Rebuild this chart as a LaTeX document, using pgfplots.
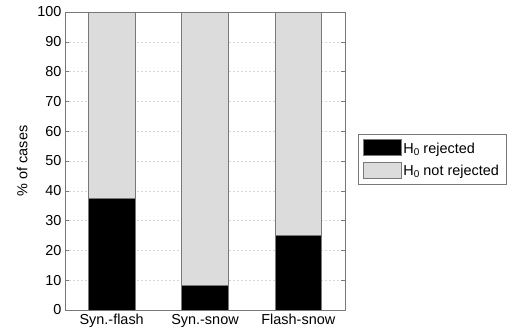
\documentclass[border=0pt]{standalone}
\usepackage{fontspec}
\setmainfont{Liberation Sans}
\usepackage{pgfplots}
\pgfplotsset{compat=1.18}
\definecolor{barGray}{RGB}{220,220,220}
\definecolor{edgeGray}{RGB}{120,120,120}
\definecolor{gridGray}{RGB}{215,215,215}
\newcommand{\lsub}[1]{\raisebox{-0.35ex}{\fontsize{10}{11}\selectfont #1}}
\begin{document}
\begin{tikzpicture}
\path (-65bp,-24bp) rectangle (450bp,310bp);
\begin{axis}[
  at={(0,0)}, anchor=south west,
  scale only axis,
  width=280bp, height=298bp,
  xmin=0.5, xmax=3.5, ymin=0, ymax=100,
  ybar stacked, bar width=0.5,
  xtick={1,2,3},
  xticklabels={Syn.-flash, Syn.-snow, Flash-snow},
  xtick style={draw=none},
  ytick={0,10,...,100},
  tick align=inside,
  major tick length=4bp,
  ytick style={edgeGray},
  axis line style={edgeGray},
  ymajorgrids,
  grid style={dash pattern=on 2bp off 2bp, gridGray, line width=0.4bp},
  ylabel={\% of cases},
  ylabel style={at={(rel axis cs:0,0.5)}, anchor=south, yshift=34bp},
  tick label style={font=\fontsize{14.5}{16}\selectfont},
  xticklabel style={yshift=-1bp},
  label style={font=\fontsize{14.5}{16}\selectfont},
  /pgf/number format/assume math mode=true,
  legend style={at={(rel axis cs:1.046,0.59)}, anchor=north west,
    draw=edgeGray, font=\fontsize{14.5}{16}\selectfont,
    row sep=5bp, inner xsep=5bp, inner ysep=5bp},
  legend image code/.code={\draw[#1, draw=edgeGray] (0bp,-7bp) rectangle (38bp,9bp);},
  legend cell align=left,
]
\addplot[fill=black, draw=edgeGray] coordinates {(1,37.5) (2,8.3) (3,25)};
\addplot[fill=barGray, draw=edgeGray] coordinates {(1,62.5) (2,91.7) (3,75)};
\legend{H\lsub{0} rejected, H\lsub{0} not rejected}
\end{axis}
\end{tikzpicture}
\end{document}
